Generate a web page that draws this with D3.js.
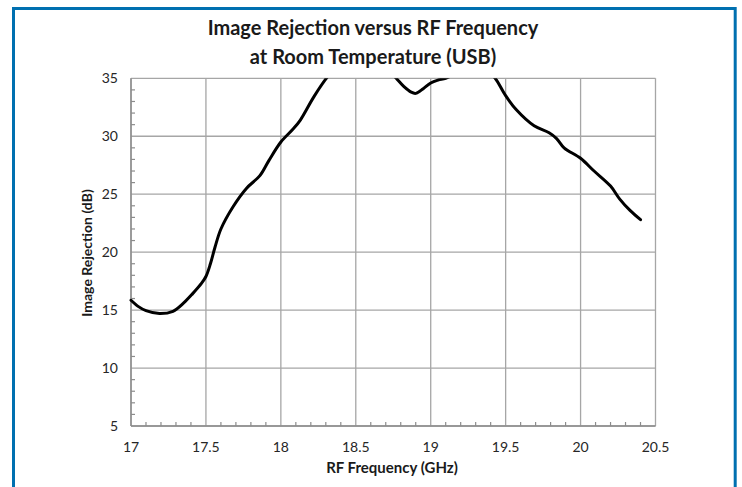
<!DOCTYPE html>
<html><head><meta charset="utf-8">
<script src="https://cdn.jsdelivr.net/npm/d3@7"></script>
<style>body{margin:0;background:#fff;} svg{display:block;}</style>
</head><body>
<svg id="c" width="742" height="487"></svg>
<script>
const titleLines = ["Image Rejection versus RF Frequency", "at Room Temperature (USB)"];
const xLabel = "RF Frequency (GHz)";
const yLabel = "Image Rejection (dB)";
const xTicks = [17, 17.5, 18, 18.5, 19, 19.5, 20, 20.5];
const yTicks = [5, 10, 15, 20, 25, 30, 35];
const freqGHz = [17.0, 17.05, 17.1, 17.19, 17.28, 17.35, 17.41, 17.47, 17.5, 17.53, 17.56, 17.6, 17.68, 17.77, 17.86, 17.92, 18.0, 18.08, 18.13, 18.22, 18.31, 18.4, 18.5, 18.6, 18.7, 18.77, 18.82, 18.87, 18.9, 18.95, 19.0, 19.05, 19.1, 19.2, 19.3, 19.38, 19.43, 19.5, 19.57, 19.69, 19.79, 19.84, 19.89, 20.0, 20.09, 20.2, 20.26, 20.33, 20.4];
const rejectionDb = [15.85, 15.3, 14.95, 14.7, 14.9, 15.6, 16.4, 17.3, 17.9, 19.0, 20.4, 22.0, 23.9, 25.5, 26.6, 27.9, 29.5, 30.6, 31.4, 33.4, 35.1, 36.3, 36.8, 36.7, 36.0, 35.0, 34.3, 33.8, 33.7, 34.1, 34.6, 34.85, 35.0, 35.6, 36.0, 35.6, 35.0, 33.5, 32.3, 30.9, 30.3, 29.8, 29.0, 28.1, 27.0, 25.7, 24.6, 23.6, 22.8];

const svg = d3.select("#c");
const font = "Lato, 'Open Sans', sans-serif";
// blue frame (open at bottom)
svg.append("path").attr("d","M13.5,487 V8.5 H735.2 V487").attr("fill","none").attr("stroke","#0070b0").attr("stroke-width",3);

const x = d3.scaleLinear().domain([17, 20.5]).range([131, 655.5]);
const y = d3.scaleLinear().domain([5, 35]).range([426, 78.3]);

// title
svg.append("g").selectAll("text").data(titleLines).join("text")
  .attr("x", 373).attr("y", (d,i)=>35+i*29).attr("text-anchor","middle")
  .attr("font-family",font).attr("font-weight","bold").attr("font-size",20).attr("fill","#1a1a1a").text(d=>d);

const grid = svg.append("g").attr("stroke","#a6a6a6").attr("stroke-width",1.3);
grid.selectAll(".vx").data(xTicks).join("line").attr("x1",d=>x(d)).attr("x2",d=>x(d)).attr("y1",y(5)).attr("y2",y(35));
grid.selectAll(".hy").data(yTicks).join("line").attr("y1",d=>y(d)).attr("y2",d=>y(d)).attr("x1",x(17)).attr("x2",x(20.5));

// minor ticks
const xMinor = d3.range(17.1, 20.5, 0.1).filter(v => Math.abs(v*2 - Math.round(v*2)) > 1e-6);
const yMinor = d3.range(6, 35, 1).filter(v => v % 5 !== 0);
const mt = svg.append("g").attr("stroke","#8c8c8c").attr("stroke-width",1.2);
mt.selectAll(".mx").data(xMinor).join("line").attr("x1",d=>x(d)).attr("x2",d=>x(d)).attr("y1",y(5)).attr("y2",y(5)-4);
mt.selectAll(".my").data(yMinor).join("line").attr("y1",d=>y(d)).attr("y2",d=>y(d)).attr("x1",x(17)).attr("x2",x(17)+4);
svg.append("line").attr("x1",x(17)).attr("x2",x(20.5)).attr("y1",y(5)).attr("y2",y(5)).attr("stroke","#8c8c8c").attr("stroke-width",1.5);
svg.append("line").attr("x1",x(17)).attr("x2",x(17)).attr("y1",y(5)).attr("y2",y(35)).attr("stroke","#8c8c8c").attr("stroke-width",1.5);

// tick labels
svg.append("g").selectAll("text").data(xTicks).join("text")
  .attr("x",d=>x(d)).attr("y",452).attr("text-anchor","middle")
  .attr("font-family",font).attr("font-size",14).attr("fill","#262626").text(d=>d);
svg.append("g").selectAll("text").data(yTicks).join("text")
  .attr("x",118).attr("y",d=>y(d)+5).attr("text-anchor","end")
  .attr("font-family",font).attr("font-size",14).attr("fill","#262626").text(d=>d);

// axis titles
svg.append("text").attr("x",392).attr("y",473).attr("text-anchor","middle")
  .attr("font-family",font).attr("font-weight","bold").attr("font-size",15).attr("fill","#1a1a1a").text(xLabel);
svg.append("text").attr("transform","translate(92,253) rotate(-90)").attr("text-anchor","middle")
  .attr("font-family",font).attr("font-weight","bold").attr("font-size",14).attr("fill","#1a1a1a").text(yLabel);

// curve, clipped to plot area
svg.append("clipPath").attr("id","pc").append("rect")
  .attr("x",x(17)-2).attr("y",y(35)).attr("width",x(20.5)-x(17)+4).attr("height",y(5)-y(35));
const pts = freqGHz.map((f,i)=>[f, rejectionDb[i]]);
svg.append("path").datum(pts).attr("clip-path","url(#pc)")
  .attr("d", d3.line().x(d=>x(d[0])).y(d=>y(d[1])).curve(d3.curveCatmullRom.alpha(0.5)))
  .attr("fill","none").attr("stroke","#000").attr("stroke-width",3).attr("stroke-linejoin","round").attr("stroke-linecap","round");
</script>
</body></html>
